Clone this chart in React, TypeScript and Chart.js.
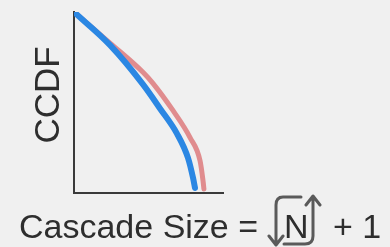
import React, { useEffect, useRef } from "react";
import { Chart, registerables } from "chart.js";

Chart.register(...registerables);

// Schematic CCDF curves (x: cascade size in arbitrary units, y: CCDF)
const blueX = [0, 24.2, 46.3, 57.7, 69.1, 76.5, 79.9, 81.2];
const blueY = [1.0, 0.817, 0.6, 0.467, 0.328, 0.194, 0.083, 0.028];
const redX = [0, 24.2, 46.3, 53.0, 66.4, 77.9, 84.6, 86.6, 87.2];
const redY = [1.0, 0.828, 0.667, 0.606, 0.456, 0.306, 0.178, 0.067, 0.022];

const yTitle = "CCDF";
const xTitleLeft = "Cascade Size =";
const xTitleSymbol = "N";
const xTitleRight = "+ 1";

const toPoints = (xs: number[], ys: number[]) => xs.map((x, i) => ({ x, y: ys[i] }));

const labelsPlugin = {
  id: "labels",
  afterDraw(chart: any) {
    const ctx = chart.ctx as CanvasRenderingContext2D;
    const area = chart.chartArea;
    ctx.save();
    ctx.fillStyle = "#2e2e2e";
    // y title
    ctx.font = "35px 'Liberation Sans', Arial, sans-serif";
    ctx.textAlign = "center";
    ctx.textBaseline = "middle";
    ctx.save();
    ctx.translate(area.left - 25, area.top + 83);
    ctx.rotate(-Math.PI / 2);
    ctx.fillText(yTitle, 0, 0);
    ctx.restore();
    // x title
    ctx.font = "34px 'Liberation Sans', Arial, sans-serif";
    ctx.textAlign = "left";
    ctx.textBaseline = "alphabetic";
    const base = 238;
    ctx.fillText(xTitleLeft, 19, base);
    ctx.fillText(xTitleSymbol, 284, base);
    ctx.fillText(xTitleRight, 333, base);
    // rotation arrows around N
    ctx.strokeStyle = "#5a5a5a";
    ctx.lineWidth = 3;
    ctx.lineCap = "round";
    ctx.lineJoin = "round";
    ctx.beginPath();
    ctx.moveTo(301, 197);
    ctx.lineTo(283, 197);
    ctx.quadraticCurveTo(276, 197, 276, 205);
    ctx.lineTo(276, 242);
    ctx.moveTo(269, 236);
    ctx.lineTo(276, 245);
    ctx.lineTo(283, 236);
    ctx.moveTo(284, 244);
    ctx.lineTo(305, 244);
    ctx.quadraticCurveTo(313, 244, 313, 236);
    ctx.lineTo(313, 198);
    ctx.moveTo(306, 205);
    ctx.lineTo(313, 196);
    ctx.lineTo(320, 205);
    ctx.stroke();
    ctx.restore();
  },
};

export default function App() {
  const ref = useRef<HTMLCanvasElement>(null);
  useEffect(() => {
    if (!ref.current) return;
    const chart = new Chart(ref.current, {
      type: "line",
      data: {
        datasets: [
          {
            data: toPoints(blueX, blueY),
            borderColor: "#2b87e3",
            borderWidth: 6,
            pointRadius: 0,
            cubicInterpolationMode: "monotone",
            borderCapStyle: "round",
            order: 0,
          },
          {
            data: toPoints(redX, redY),
            borderColor: "#e08c8e",
            borderWidth: 5,
            pointRadius: 0,
            cubicInterpolationMode: "monotone",
            borderCapStyle: "round",
            order: 1,
          },
        ],
      },
      options: {
        animation: false,
        responsive: false,
        events: [],
        layout: { padding: { left: 66, top: 12, right: 167, bottom: 46 } },
        plugins: { legend: { display: false }, tooltip: { enabled: false } },
        scales: {
          x: {
            type: "linear",
            min: 0,
            max: 100,
            ticks: { display: false },
            grid: { display: false },
            border: { display: true, color: "#3a3a3a", width: 2 },
          },
          y: {
            type: "linear",
            min: 0,
            max: 1,
            ticks: { display: false },
            grid: { display: false },
            border: { display: true, color: "#3a3a3a", width: 2 },
          },
        },
      },
      plugins: [labelsPlugin],
    });
    return () => chart.destroy();
  }, []);
  return (
    <div style={{ position: "fixed", left: 0, top: 0, width: 390, height: 247, background: "#f0f0f0" }}>
      <canvas ref={ref} width={390} height={247} style={{ display: "block" }} />
    </div>
  );
}
